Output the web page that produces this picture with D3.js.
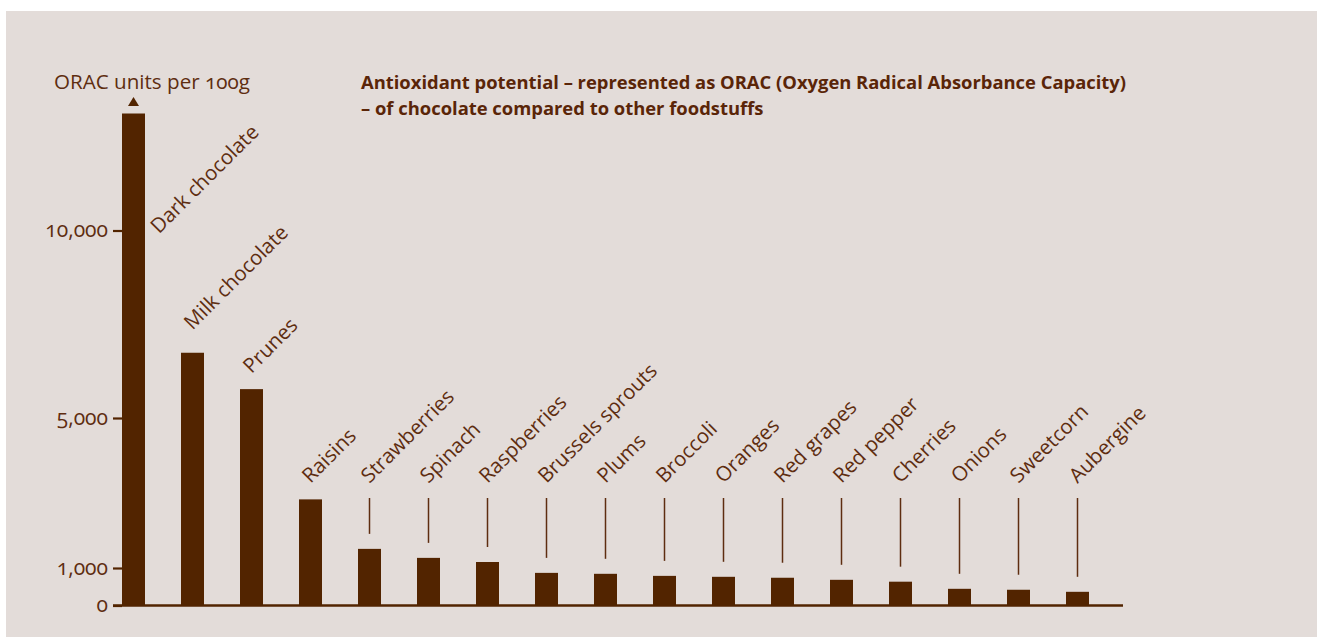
<!DOCTYPE html>
<html lang="en">
<head>
	<meta charset="UTF-8">
	<title>ORAC</title>
	<script src="https://cdn.jsdelivr.net/npm/d3@7"></script>
	<style>
		body { margin: 0; background: #ffffff; }
		svg text {
			font-family: "Open Sans", "Noto Sans", sans-serif;
			font-variant-numeric: oldstyle-nums;
		}
	</style>
</head>
<body>
	<div id="vis"></div>

	<script>
		// data
		var foods = ["Dark chocolate", "Milk chocolate", "Prunes", "Raisins", "Strawberries", "Spinach",
			"Raspberries", "Brussels sprouts", "Plums", "Broccoli", "Oranges", "Red grapes",
			"Red pepper", "Cherries", "Onions", "Sweetcorn", "Aubergine"];
		var orac = [13120, 6740, 5770, 2830, 1510, 1270, 1160, 870, 845, 790, 765, 740,
			685, 635, 445, 420, 365];
		var tickValues = [0, 1000, 5000, 10000];
		var yTitle = "ORAC units per 100g";
		var titleLines = ["Antioxidant potential \u2013 represented as ORAC (Oxygen Radical Absorbance Capacity)",
			"\u2013 of chocolate compared to other foodstuffs"];

		var width = 1317;
		var height = 637;
		var barColor = "#522400";
		var textColor = "#5e2d10";

		var svg = d3.select("#vis").append("svg")
				.attr("width", width)
				.attr("height", height);

		// card background
		svg.append("rect")
			.attr("x", 6)
			.attr("y", 11)
			.attr("width", width - 6)
			.attr("height", height - 11)
			.attr("fill", "#e3dcd9");

		var x = d3.scaleBand()
				.domain(foods)
				.range([122, 1089])
				.paddingInner(36 / 59)
				.paddingOuter(0);

		var y = d3.scaleLinear()
				.domain([0, 10000])
				.range([605.5, 230.5]);

		// bars
		svg.selectAll("rect.bar")
			.data(foods)
			.enter().append("rect")
			.attr("class", "bar")
			.attr("x", function(d) { return x(d); })
			.attr("y", function(d, i) { return y(orac[i]); })
			.attr("width", x.bandwidth())
			.attr("height", function(d, i) { return y(0) - y(orac[i]); })
			.attr("fill", barColor);

		// y axis, ticks only
		var axis = svg.append("g")
				.attr("transform", "translate(122,0)")
				.call(d3.axisLeft(y)
					.tickValues(tickValues)
					.tickSize(9)
					.tickPadding(5)
					.tickFormat(d3.format(",")));
		axis.select(".domain").remove();
		axis.selectAll(".tick line")
			.attr("stroke", barColor)
			.attr("stroke-width", 2.2);
		axis.selectAll(".tick text")
			.attr("fill", textColor)
			.attr("font-size", 21)
			.attr("dy", "0.3em");

		// baseline
		svg.append("line")
			.attr("x1", 113)
			.attr("x2", 1123)
			.attr("y1", y(0))
			.attr("y2", y(0))
			.attr("stroke", barColor)
			.attr("stroke-width", 2.5);

		// arrow over the first (cut off) bar
		var ax = x(foods[0]) + x.bandwidth() / 2;
		svg.append("path")
			.attr("d", "M" + (ax - 5.5) + ",106 L" + (ax + 5.5) + ",106 L" + ax + ",97 Z")
			.attr("fill", barColor);

		svg.append("text")
			.attr("x", 54)
			.attr("y", 89)
			.attr("fill", textColor)
			.attr("font-size", 20.6)
			.text(yTitle);

		svg.append("g")
			.selectAll("text")
			.data(titleLines)
			.enter().append("text")
			.attr("x", 361)
			.attr("y", function(d, i) { return 89 + i * 26; })
			.attr("fill", "#5a2508")
			.attr("font-size", 18.4)
			.attr("font-weight", "bold")
			.text(function(d) { return d; });

		// labels and leader lines
		var labelLine = 484;
		var leaderTop = 498;

		foods.forEach(function(f, i) {
			var cx = x(f) + x.bandwidth() / 2;
			var top = y(orac[i]);
			var lx = cx;
			var ly = Math.min(labelLine, top - 15);
			if (i === 0) {
				lx = x(f) + x.bandwidth() + 14;
				ly = y(10000) + 4;
			} else if (i === 1) {
				ly = top - 22;
			}
			svg.append("text")
				.attr("transform", "translate(" + lx + "," + ly + ") rotate(-45)")
				.attr("fill", textColor)
				.attr("font-size", 20.5)
				.text(f);

			if (top - 15 > leaderTop) {
				svg.append("line")
					.attr("x1", cx)
					.attr("x2", cx)
					.attr("y1", leaderTop)
					.attr("y2", top - 15)
					.attr("stroke", textColor)
					.attr("stroke-width", 1.5);
			}
		});
	</script>
</body>
</html>
